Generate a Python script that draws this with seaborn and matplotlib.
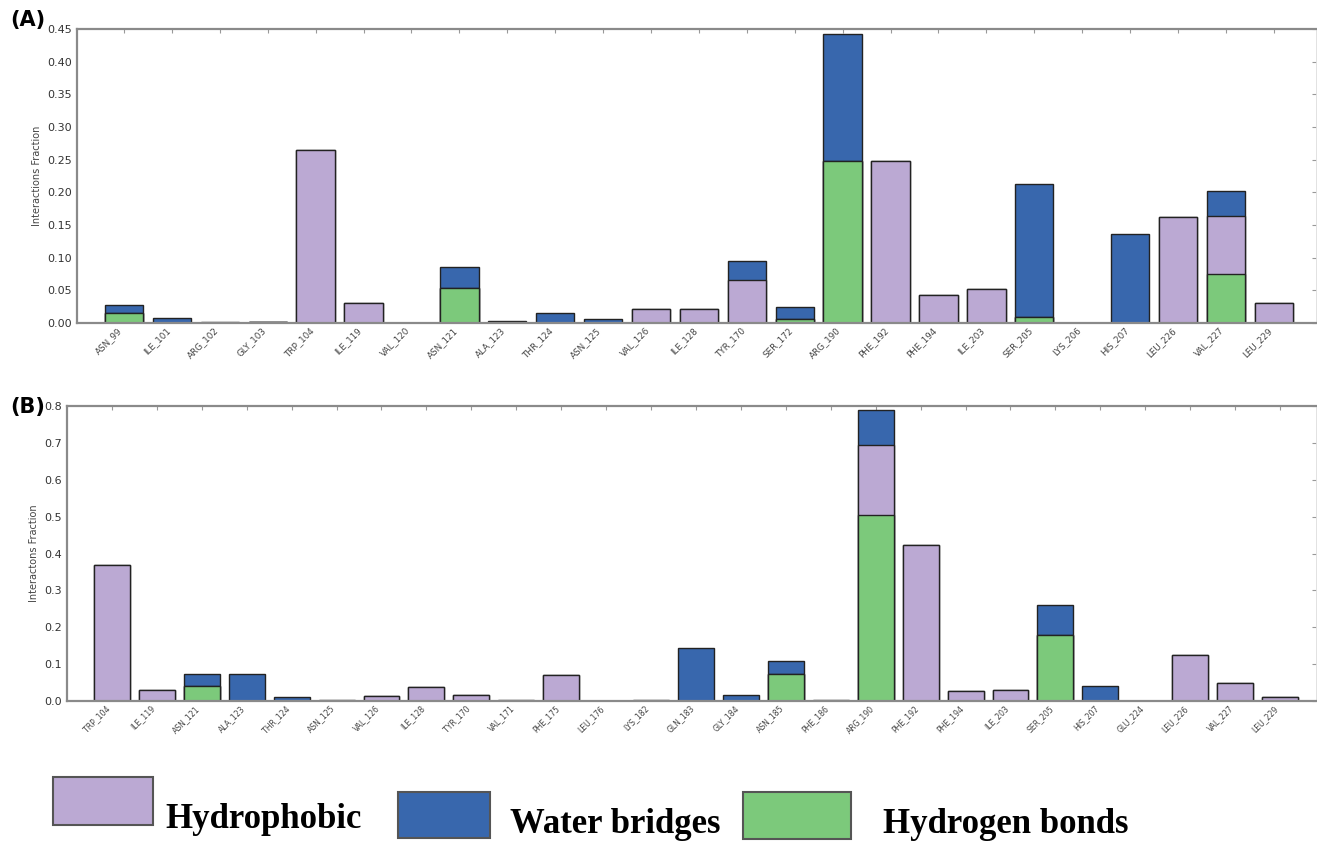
import numpy as np
import pandas as pd
import seaborn as sns
import matplotlib.pyplot as plt
from matplotlib.patches import Patch

# --- DATA ---
# Panel (A)
res_a = ["ASN_99", "ILE_101", "ARG_102", "GLY_103", "TRP_104", "ILE_119", "VAL_120",
         "ASN_121", "ALA_123", "THR_124", "ASN_125", "VAL_126", "ILE_128", "TYR_170",
         "SER_172", "ARG_190", "PHE_192", "PHE_194", "ILE_203", "SER_205", "LYS_206",
         "HIS_207", "LEU_226", "VAL_227", "LEU_229"]
hbond_a = [0.016, 0, 0, 0.002, 0, 0, 0, 0.053, 0, 0, 0, 0, 0, 0, 0.006, 0.248,
           0, 0, 0, 0.009, 0, 0, 0, 0.075, 0]
hphob_a = [0, 0, 0, 0, 0.265, 0.030, 0, 0, 0, 0, 0, 0.022, 0.022, 0.066, 0, 0,
           0.248, 0.043, 0.052, 0, 0, 0, 0.163, 0.089, 0.030]
water_a = [0.012, 0.007, 0.001, 0, 0, 0, 0, 0.033, 0.003, 0.016, 0.006, 0, 0, 0.029,
           0.018, 0.195, 0, 0, 0, 0.204, 0, 0.136, 0, 0.038, 0]

# Panel (B)
res_b = ["TRP_104", "ILE_119", "ASN_121", "ALA_123", "THR_124", "ASN_125", "VAL_126",
         "ILE_128", "TYR_170", "VAL_171", "PHE_175", "LEU_176", "LYS_182", "GLN_183",
         "GLY_184", "ASN_185", "PHE_186", "ARG_190", "PHE_192", "PHE_194", "ILE_203",
         "SER_205", "HIS_207", "GLU_224", "LEU_226", "VAL_227", "LEU_229"]
hbond_b = [0, 0, 0.041, 0, 0, 0, 0, 0, 0, 0, 0, 0, 0, 0, 0, 0.072, 0, 0.505,
           0, 0, 0, 0.180, 0, 0, 0, 0, 0]
hphob_b = [0.368, 0.031, 0, 0, 0, 0, 0.0125, 0.039, 0.016, 0, 0.070, 0.001, 0, 0,
           0, 0, 0, 0.188, 0.423, 0.027, 0.031, 0, 0, 0.001, 0.126, 0.048, 0.012]
water_b = [0, 0, 0.031, 0.072, 0.011, 0.002, 0, 0, 0, 0.002, 0, 0, 0.004, 0.144,
           0.015, 0.036, 0.002, 0.096, 0, 0, 0, 0.079, 0.042, 0, 0, 0, 0]

legend_labels = ["Hydrophobic", "Water bridges", "Hydrogen bonds"]

# colours
C_HPHOB = "#bba9d3"
C_WATER = "#3867ad"
C_HBOND = "#7cc97b"
EDGE = "#222222"
SPINE = "#8a8a8a"

sns.set_theme(style="white")
plt.rcParams["font.family"] = ["DejaVu Sans"]


def draw_panel(ax, names, hb, hp, wb, ymax, yticks, fmt, ylabel, xlim, xfs):
    df = pd.DataFrame({"res": names, "hb": hb, "hp": hp, "wb": wb})
    df["hb_hp"] = df["hb"] + df["hp"]
    df["total"] = df["hb_hp"] + df["wb"]
    # stacked look: draw totals first, then cover with lower layers
    for col, colour in [("total", C_WATER), ("hb_hp", C_HPHOB), ("hb", C_HBOND)]:
        sns.barplot(data=df, x="res", y=col, order=names, color=colour,
                    saturation=1, width=0.8, edgecolor=EDGE, linewidth=1.0, ax=ax)
    ax.set_xlim(*xlim)
    ax.set_ylim(0, ymax)
    ax.set_yticks(yticks)
    ax.set_yticklabels([fmt.format(v) for v in yticks], fontsize=8, color="#333333")
    ax.set_xlabel("")
    ax.set_ylabel(ylabel, fontsize=7, color="#444444", labelpad=4)
    ax.tick_params(axis="x", labelsize=xfs, labelcolor="#444444", rotation=45, pad=2)
    for lbl in ax.get_xticklabels():
        lbl.set_ha("right")
    ax.tick_params(direction="in", top=True, right=True, length=3,
                   color="#999999", width=0.8)
    for s in ax.spines.values():
        s.set_color(SPINE)
        s.set_linewidth(1.6)
    ax.spines["right"].set_linewidth(0.6)
    ax.spines["right"].set_color("#dddddd")


W, H = 1317, 843
fig = plt.figure(figsize=(W / 100, H / 100), dpi=100)

ax_a = fig.add_axes([77 / W, 1 - 323 / H, (1316 - 77) / W, (323 - 29) / H])
ax_b = fig.add_axes([67 / W, 1 - 701 / H, (1316 - 67) / W, (701 - 406) / H])

draw_panel(ax_a, res_a, hbond_a, hphob_a, water_a, 0.45,
           np.arange(0, 0.451, 0.05), "{:.2f}", "Interactions Fraction",
           (-0.98, 24.88), 6.3)
draw_panel(ax_b, res_b, hbond_b, hphob_b, water_b, 0.8,
           np.arange(0, 0.81, 0.1), "{:.1f}", "Interactons Fraction",
           (-1.0, 26.8), 5.6)

fig.text(10 / W, 1 - 20 / H, "(A)", fontsize=15, fontweight="bold", va="center", color="black")
fig.text(10 / W, 1 - 407 / H, "(B)", fontsize=15, fontweight="bold", va="center", color="black")

# --- LEGEND: swatches as handle-only legends, labels as separate text ---
colours = [C_HPHOB, C_WATER, C_HBOND]
swatch = [(53, 777, 2.77, 1.67), (398, 792, 2.55, 1.58), (743, 792, 3.0, 1.62)]
text_pos = [(165, 828), (510, 833), (883, 833)]
for label, colour, (px, py, hl, hh), (tx, ty) in zip(legend_labels, colours, swatch, text_pos):
    handle = Patch(facecolor=colour, edgecolor="#555555", linewidth=1.5)
    fig.legend(handles=[handle], labels=[""], loc="upper left",
               bbox_to_anchor=(px / W, 1 - py / H), frameon=False,
               borderpad=0, borderaxespad=0, handlelength=hl,
               handleheight=hh, handletextpad=0, prop={"size": 26})
    fig.text(tx / W, 1 - ty / H, label, fontsize=25, fontweight="bold", color="black",
             family=["Liberation Serif", "DejaVu Serif"], va="baseline", ha="left")

fig.savefig("out.png", dpi=100)
